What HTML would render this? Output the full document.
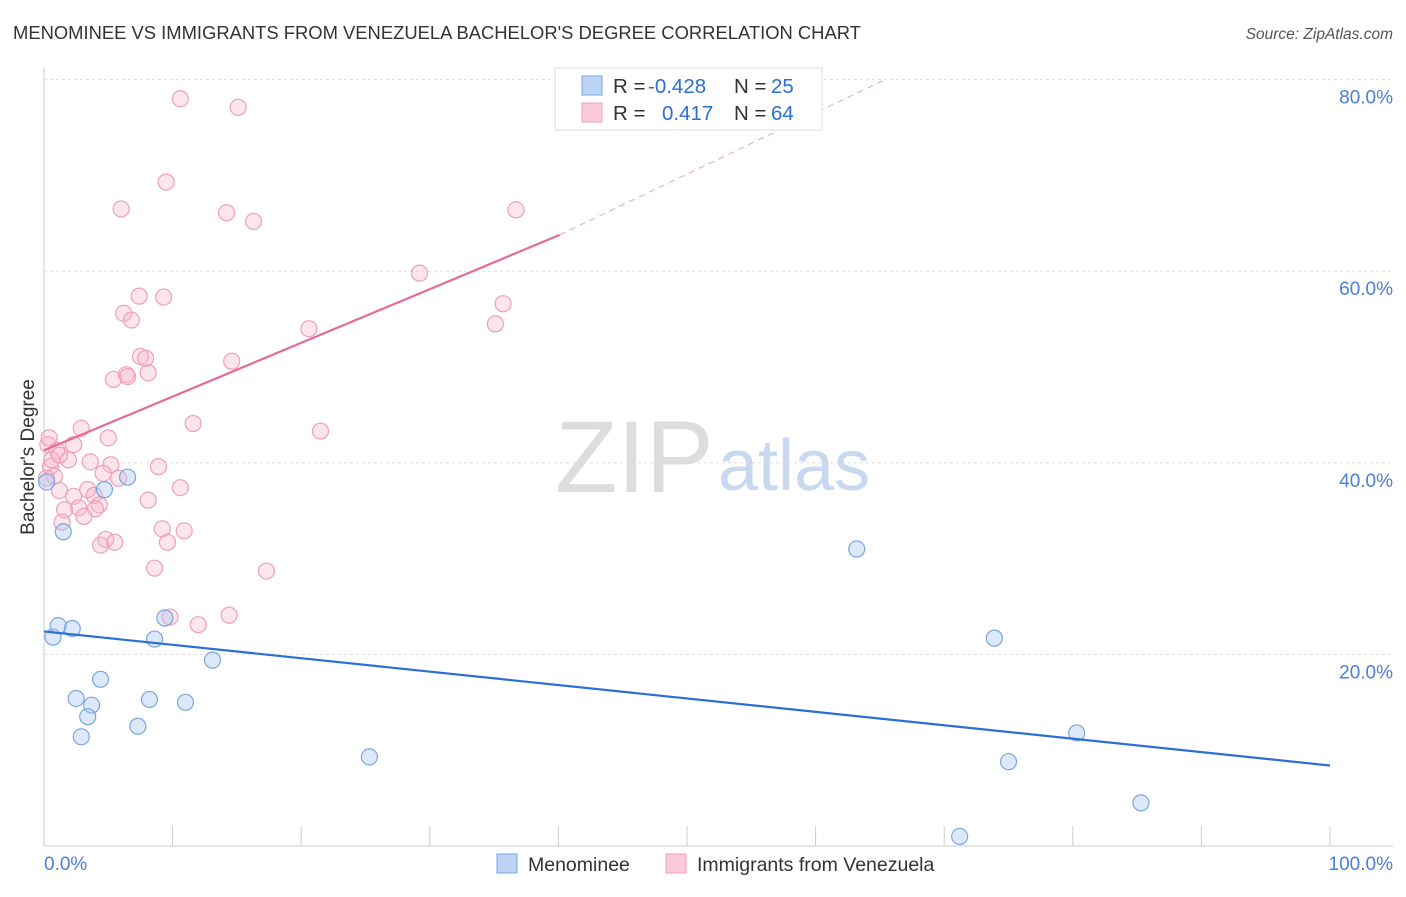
<!DOCTYPE html>
<html><head><meta charset="utf-8"><style>
body{margin:0;background:#fff;font-family:"Liberation Sans",sans-serif}
svg text{font-family:"Liberation Sans",sans-serif}
</style></head><body>
<svg id="c" width="1406" height="892"></svg>
<script>
const blueX=[0.2,1.5,0.7,1.1,2.2,6.5,4.7,2.5,4.4,3.7,3.4,2.9,9.4,8.6,8.2,11.0,7.3,13.1,25.3,63.2,73.9,80.3,75.0,85.3,71.2];
const blueY=[38.0,32.8,21.8,23.0,22.7,38.5,37.2,15.4,17.4,14.7,13.5,11.4,23.8,21.6,15.3,15.0,12.5,19.4,9.3,31.0,21.7,11.8,8.8,4.5,1.0];
const pinkX=[10.6,15.1,9.5,6.0,14.2,16.3,36.7,29.2,7.4,9.3,35.7,6.2,6.8,35.1,20.6,7.5,7.9,14.6,8.1,6.4,6.5,5.4,11.6,21.5,2.9,5.0,2.3,0.3,1.0,1.9,3.6,5.2,8.9,4.6,0.5,0.8,5.8,10.6,1.2,3.4,2.3,3.9,8.1,1.6,2.7,4.3,4.0,3.1,1.4,9.2,10.9,4.8,5.5,4.4,9.6,8.6,17.3,9.8,14.4,12.0,0.2,0.6,0.4,1.2];
const pinkY=[78.0,77.1,69.3,66.5,66.1,65.2,66.4,59.8,57.4,57.3,56.6,55.6,54.9,54.5,54.0,51.1,50.9,50.6,49.4,49.2,49.0,48.7,44.1,43.3,43.6,42.6,41.9,41.9,41.3,40.3,40.1,39.8,39.6,38.9,39.6,38.6,38.4,37.4,37.1,37.2,36.5,36.6,36.1,35.1,35.3,35.6,35.2,34.4,33.8,33.1,32.9,32.0,31.7,31.4,31.7,29.0,28.7,23.9,24.1,23.1,38.4,40.3,42.6,40.8];
const blueLine=[22.4,8.4]; // y at x=0 and x=100
const pinkLine=[41.3,0.561]; // intercept, slope
const yTicks=[20,40,60,80];
const NS='http://www.w3.org/2000/svg';
const svg=document.getElementById('c');
const X=v=>44+v*12.86, Y=v=>846-v*9.58;
function el(t,a,p){const e=document.createElementNS(NS,t);for(const k in a)e.setAttribute(k,a[k]);(p||svg).appendChild(e);return e;}
let t=el('text',{x:13,y:39,'font-size':18.4,fill:'#333'});t.textContent="MENOMINEE VS IMMIGRANTS FROM VENEZUELA BACHELOR'S DEGREE CORRELATION CHART";

t=el('text',{x:1393,y:39,'font-size':15.5,fill:'#555','font-style':'italic','text-anchor':'end'});t.textContent="Source: ZipAtlas.com";

t=el('text',{x:555,y:492,'font-size':102,fill:'#ddd'});t.textContent='ZIP';t.setAttribute('font-family','Liberation Serif,serif');

t=el('text',{x:718,y:490,'font-size':72,fill:'#c8d8ef'});t.textContent='atlas';

yTicks.forEach(v=>{
 let g=el('line',{x1:44,x2:1393,y1:Y(v),y2:Y(v),stroke:'#ddd','stroke-dasharray':'3,3'});
 
 let l=el('text',{x:1393,y:Y(v)+24,'font-size':19,fill:'#4a7fd4','text-anchor':'end'});l.textContent=v.toFixed(1)+'%';
 
});
let a=el('line',{x1:44,x2:44,y1:68,y2:846,stroke:'#ccc'});
a=el('line',{x1:44,x2:1393,y1:846,y2:846,stroke:'#ccc'});
for(let i=0;i<=10;i++){let k=el('line',{x1:X(i*10),x2:X(i*10),y1:826,y2:846,stroke:'#ccc'});}
t=el('text',{x:44,y:870,'font-size':19,fill:'#4a7fd4'});t.textContent='0.0%';
t=el('text',{x:1393,y:870,'font-size':19,fill:'#4a7fd4','text-anchor':'end'});t.textContent='100.0%';
t=el('text',{x:34,y:457,'font-size':19,fill:'#333','text-anchor':'middle',transform:'rotate(-90 34 457)'});t.textContent="Bachelor's Degree";

pinkX.forEach((v,i)=>{let c=el('circle',{cx:X(v),cy:Y(pinkY[i]),r:8,fill:'rgba(248,180,200,0.35)',stroke:'#eea0b8','stroke-width':1.2});
 });
blueX.forEach((v,i)=>{let c=el('circle',{cx:X(v),cy:Y(blueY[i]),r:8,fill:'rgba(170,200,245,0.4)',stroke:'#7aa6e0','stroke-width':1.2});
 });
let ln=el('line',{x1:X(0),y1:Y(blueLine[0]),x2:X(100),y2:Y(blueLine[1]),stroke:'#2a6fd6','stroke-width':2.2});

ln=el('line',{x1:X(0),y1:Y(pinkLine[0]),x2:X(40.1),y2:Y(pinkLine[0]+pinkLine[1]*40.1),stroke:'#e56a95','stroke-width':2.2});

ln=el('line',{x1:X(40.1),y1:Y(pinkLine[0]+pinkLine[1]*40.1),x2:X(65.4),y2:Y(80),stroke:'#eeb0c4','stroke-width':1.2,'stroke-dasharray':'6,5'});

let g=el('g',{});
el('rect',{x:555,y:68,width:267,height:62,fill:'#fff',stroke:'#ddd'},g);
el('rect',{x:582,y:76,width:20,height:19,fill:'#bcd4f6',stroke:'#7aa6e0'},g);
el('rect',{x:582,y:103,width:20,height:19,fill:'#fbcbd9',stroke:'#eea0b8'},g);
[['R = ',613,93,'#333'],['-0.428',648,93,'#2a6fd6'],['N = ',734,93,'#333'],['25',771,93,'#2a6fd6'],
 ['R = ',613,120,'#333'],['0.417',662,120,'#2a6fd6'],['N = ',734,120,'#333'],['64',771,120,'#2a6fd6']].forEach(d=>{
 let s=el('text',{x:d[1],y:d[2],'font-size':20.5,fill:d[3]},g);s.textContent=d[0];});
let b=el('g',{});
el('rect',{x:497,y:854,width:20,height:19,fill:'#bcd4f6',stroke:'#7aa6e0'},b);
t=el('text',{x:528,y:871,'font-size':19.5,fill:'#333'},b);t.textContent='Menominee';
el('rect',{x:666,y:854,width:20,height:19,fill:'#fbcbd9',stroke:'#eea0b8'},b);
t=el('text',{x:697,y:871,'font-size':19.5,fill:'#333'},b);t.textContent='Immigrants from Venezuela';
</script>
</body></html>
